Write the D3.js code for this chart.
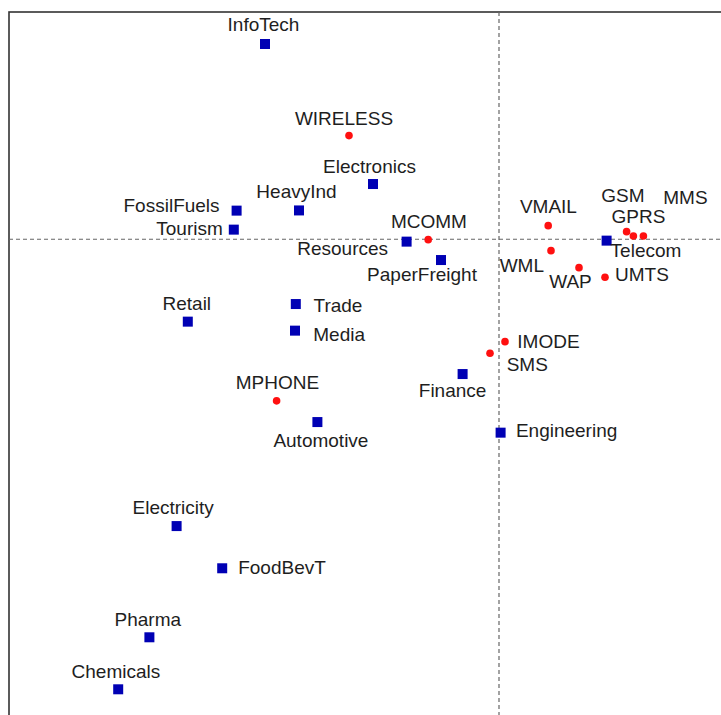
<!DOCTYPE html>
<html>
<head>
<meta charset="utf-8">
<script src="https://cdn.jsdelivr.net/npm/d3@7"></script>
<style>
  html, body { margin: 0; padding: 0; background: #fff; }
  svg { display: block; }
</style>
</head>
<body>
<svg id="chart" width="721" height="715"></svg>
<script>
// Row points (industries) – first two dimensions
const industries = ["InfoTech", "Electronics", "HeavyInd", "FossilFuels", "Tourism", "Resources",
  "PaperFreight", "Telecom", "Retail", "Trade", "Media", "Finance", "Engineering",
  "Automotive", "Electricity", "FoodBevT", "Pharma", "Chemicals"];
const industryDim1 = [-0.585, -0.315, -0.500, -0.656, -0.663, -0.231,
  -0.145, 0.269, -0.778, -0.508, -0.510, -0.091, 0.004,
  -0.454, -0.806, -0.692, -0.874, -0.952];
const industryDim2 = [0.488, 0.138, 0.072, 0.0715, 0.024, -0.006,
  -0.052, -0.0035, -0.206, -0.162, -0.2285, -0.337, -0.4835,
  -0.457, -0.717, -0.8225, -0.995, -1.125];

// Column points (technologies)
const technologies = ["WIRELESS", "MCOMM", "VMAIL", "WML", "WAP", "UMTS", "GSM", "GPRS",
  "MMS", "IMODE", "SMS", "MPHONE"];
const techDim1 = [-0.375, -0.177, 0.123, 0.130, 0.200, 0.265, 0.319, 0.336,
  0.361, 0.015, -0.0225, -0.556];
const techDim2 = [0.259, -0.001, 0.034, -0.0285, -0.071, -0.095, 0.019, 0.008,
  0.008, -0.256, -0.285, -0.404];

// Label placement: [text-anchor, dx, dy (baseline)] in pixels relative to each point
const labelPlacement = {
  InfoTech: ["middle", -1.5, -13], Electronics: ["middle", -3.5, -11.5], HeavyInd: ["middle", -2.5, -12.5],
  FossilFuels: ["end", -17, 1.5], Tourism: ["end", -11, 5.5], Resources: ["end", -18.5, 13],
  PaperFreight: ["middle", -19, 20.7], Telecom: ["start", 4, 16.7], Retail: ["middle", -1, -11.7],
  Trade: ["start", 17.7, 7.7], Media: ["start", 18.3, 10.3], Finance: ["middle", -10, 22.7],
  Engineering: ["start", 15.3, 4.7], Automotive: ["middle", 3.5, 24.7], Electricity: ["middle", -3.4, -11.7],
  FoodBevT: ["start", 16, 6], Pharma: ["middle", -1.6, -11.7], Chemicals: ["middle", -2.3, -11.7],
  WIRELESS: ["middle", -5, -10.7], MCOMM: ["middle", 0.7, -12], VMAIL: ["middle", 0.2, -12.7],
  WML: ["end", -7, 21.3], WAP: ["middle", -8.5, 20.7], UMTS: ["start", 10, 3.4],
  GSM: ["middle", -3.7, -30], GPRS: ["middle", 5, -13.3], MMS: ["middle", 42, -31.7],
  IMODE: ["start", 12.3, 6], SMS: ["start", 16.7, 17.3], MPHONE: ["middle", 0.8, -12]
};

const W = 721, H = 715;
const svg = d3.select("#chart");

const x = d3.scaleLinear().domain([-1.225, 0.555]).range([9, 721]);
const y = d3.scaleLinear().domain([-1.19, 0.568]).range([715.3, 12]);

// Frame (extends beyond the right and bottom edges)
svg.append("rect")
  .attr("x", x(-1.225)).attr("y", y(0.568))
  .attr("width", 760).attr("height", 760)
  .attr("fill", "none").attr("stroke", "#333").attr("stroke-width", 1.6);

// Origin reference lines
svg.append("line")
  .attr("x1", x(-1.225)).attr("x2", W)
  .attr("y1", y(0)).attr("y2", y(0))
  .attr("stroke", "#666").attr("stroke-width", 1.2).attr("stroke-dasharray", "4,3");
svg.append("line")
  .attr("x1", x(0)).attr("x2", x(0))
  .attr("y1", y(0.568)).attr("y2", H)
  .attr("stroke", "#666").attr("stroke-width", 1.2).attr("stroke-dasharray", "4,3");

const rows = industries.map((n, i) => ({ name: n, d1: industryDim1[i], d2: industryDim2[i] }));
const cols = technologies.map((n, i) => ({ name: n, d1: techDim1[i], d2: techDim2[i] }));

const sq = 10;
svg.append("g").selectAll("rect").data(rows).join("rect")
  .attr("x", d => x(d.d1) - sq / 2).attr("y", d => y(d.d2) - sq / 2)
  .attr("width", sq).attr("height", sq)
  .attr("fill", "#0000b4");

svg.append("g").selectAll("circle").data(cols).join("circle")
  .attr("cx", d => x(d.d1)).attr("cy", d => y(d.d2))
  .attr("r", 3.8).attr("fill", "#ff1010");

const labels = rows.concat(cols);
svg.append("g")
  .attr("font-family", "'Liberation Sans', Arial, sans-serif")
  .attr("font-size", 19)
  .attr("fill", "#1e1e1e")
  .selectAll("text").data(labels).join("text")
  .attr("x", d => x(d.d1) + labelPlacement[d.name][1])
  .attr("y", d => y(d.d2) + labelPlacement[d.name][2])
  .attr("text-anchor", d => labelPlacement[d.name][0])
  .text(d => d.name);
</script>
</body>
</html>
